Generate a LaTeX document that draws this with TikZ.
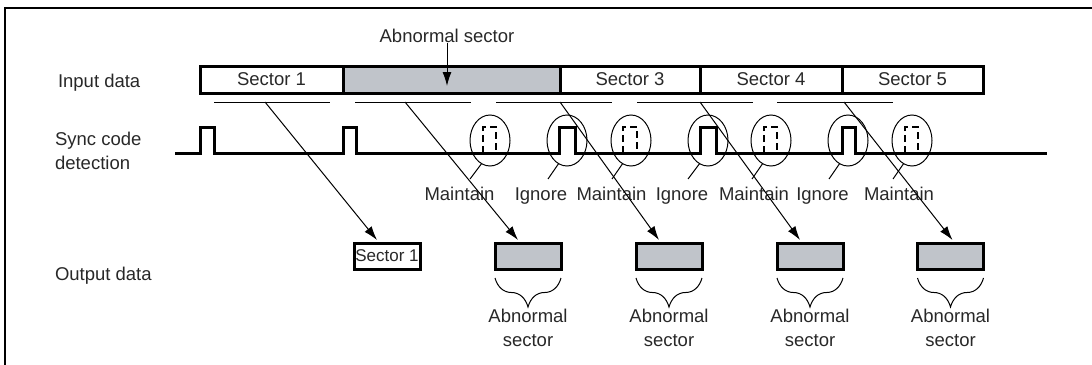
\documentclass[tikz,border=0pt]{standalone}
\usepackage{fontspec}
\setmainfont{Liberation Sans}
\usepackage{xcolor}
\usetikzlibrary{positioning,shapes.geometric,arrows.meta,
                decorations.pathreplacing,calc}
\definecolor{secgray}{RGB}{192,196,202}
\definecolor{inkgray}{RGB}{40,40,40}

\begin{document}
\begin{tikzpicture}[
  x=1pt, y=-1pt,
  every node/.style={font=\fontsize{18.5}{24}\selectfont, text=inkgray,
                     inner sep=0pt, outer sep=0pt},
  sec/.style={draw, line width=3pt, minimum height=27pt},
  outbox/.style={draw, line width=3pt, minimum width=66pt,
                 minimum height=26pt},
  ring/.style={draw, ellipse, line width=1pt,
               minimum width=40pt, minimum height=51pt},
  sig/.style={line width=3pt},
  gone/.style={line width=2.6pt, dash pattern=on 7pt off 4pt},
  arr/.style={-{Latex[length=14pt,width=9pt]}, line width=1pt},
  brc/.style={decorate, decoration={brace, amplitude=29pt},
              line width=1pt},
  tag/.style={anchor=base, text height=13pt, text depth=4pt}
]
\useasboundingbox (0,0) rectangle (1092,364);

%% Frame
\draw[line width=2.5pt] (5,370) -- (5,8) -- (1100,8);

%% Row titles
\node[anchor=west] (lin) at (58,83) {Input data};
\node[anchor=west, align=left] (lsync) at (55,151) {Sync code\\detection};
\node[anchor=west] (lout) at (55,276) {Output data};

%% Input data
\node[sec, minimum width=143pt] (s1) at (271.5,79.5) {Sector 1};
\node[sec, fill=secgray, minimum width=217pt, right=0pt of s1] (s2) {};
\node[sec, minimum width=140pt, right=0pt of s2] (s3) {Sector 3};
\node[sec, minimum width=142pt, right=0pt of s3] (s4) {Sector 4};
\node[sec, minimum width=141pt, right=0pt of s4] (s5) {Sector 5};

\node (abnlbl) at (447,36) {Abnormal sector};
\draw[arr] (abnlbl.south) -- ([yshift=7pt]abnlbl.south |- s2.south);

%% Detection windows
\draw[line width=1pt] (214,102) -- (330,102);
\draw[line width=1pt] (355,102) -- (471,102);
\draw[line width=1pt] (496,102) -- (612,102);
\draw[line width=1pt] (637,102) -- (753,102);
\draw[line width=1pt] (777,102) -- (893,102);
\coordinate (u1) at (265,102);
\coordinate (u2) at (405,102);
\coordinate (u3) at (560,102);
\coordinate (u4) at (700,102);
\coordinate (u5) at (844,102);

%% Sync code signal
\draw[sig] (175,153) -- (200,153) -- (200,127) -- (214,127) -- (214,153)
  -- (343,153) -- (343,127) -- (356,127) -- (356,153)
  -- (559,153) -- (559,127) -- (575,127) -- (575,153)
  -- (700,153) -- (700,127) -- (716,127) -- (716,153)
  -- (842,153) -- (842,127) -- (855,127) -- (855,153) -- (1047,153);
%% missing sync codes
\draw[gone] (483,153) -- (483,127) -- (496,127) -- (496,153);
\draw[gone] (623,153) -- (623,127) -- (637,127) -- (637,153);
\draw[gone] (764,153) -- (764,127) -- (777,127) -- (777,153);
\draw[gone] (905,153) -- (905,127) -- (918,127) -- (918,153);

\node[ring] (e1) at (490,140.5) {};
\node[ring] (e2) at (567,140.5) {};
\node[ring] (e3) at (631,140.5) {};
\node[ring] (e4) at (708,140.5) {};
\node[ring] (e5) at (771,140.5) {};
\node[ring] (e6) at (848,140.5) {};
\node[ring] (e7) at (912,140.5) {};

\node[tag] (m1) at (459.5,200) {Maintain};
\node[tag] (i1) at (541,200) {Ignore};
\node[tag] (m2) at (611.5,200) {Maintain};
\node[tag] (i2) at (682,200) {Ignore};
\node[tag] (m3) at (754,200) {Maintain};
\node[tag] (i3) at (822.5,200) {Ignore};
\node[tag] (m4) at (899,200) {Maintain};

\draw[line width=1pt] (e1.250) -- ([xshift=10.5pt,yshift=8pt]m1.north);
\draw[line width=1pt] (e2.250) -- ([xshift=7pt,yshift=8pt]i1.north);
\draw[line width=1pt] (e3.250) -- ([xshift=0.5pt,yshift=8pt]m2.north);
\draw[line width=1pt] (e4.250) -- ([xshift=6pt,yshift=8pt]i2.north);
\draw[line width=1pt] (e5.250) -- ([xshift=-2pt,yshift=8pt]m3.north);
\draw[line width=1pt] (e6.250) -- ([xshift=6.5pt,yshift=8pt]i3.north);
\draw[line width=1pt] (e7.250) -- ([xshift=-6pt,yshift=8pt]m4.north);

%% Output data
\node[outbox, font=\fontsize{17}{20}\selectfont] (o1) at (387,256) {Sector 1};
\node[outbox, fill=secgray] (o2) at (528,256) {};
\node[outbox, fill=secgray] (o3) at (669,256) {};
\node[outbox, fill=secgray] (o4) at (810,256) {};
\node[outbox, fill=secgray] (o5) at (950.5,256) {};

\draw[arr] (u1) -- ([xshift=-10pt,yshift=3pt]o1.north);
\draw[arr] (u2) -- ([xshift=-10pt,yshift=3pt]o2.north);
\draw[arr] (u3) -- ([xshift=-10pt,yshift=3pt]o3.north);
\draw[arr] (u4) -- ([xshift=-10pt,yshift=3pt]o4.north);
\draw[arr] (u5) -- ([xshift=2pt,yshift=3pt]o5.north);

\draw[brc] ([yshift=-9pt]o2.south east) -- ([yshift=-9pt]o2.south west);
\draw[brc] ([yshift=-9pt]o3.south east) -- ([yshift=-9pt]o3.south west);
\draw[brc] ([yshift=-9pt]o4.south east) -- ([yshift=-9pt]o4.south west);
\draw[brc] ([yshift=-9pt]o5.south east) -- ([yshift=-9pt]o5.south west);

\node[align=center, below=40pt of o2] (a2) {Abnormal\\sector};
\node[align=center, below=40pt of o3] (a3) {Abnormal\\sector};
\node[align=center, below=40pt of o4] (a4) {Abnormal\\sector};
\node[align=center, below=40pt of o5] (a5) {Abnormal\\sector};

\end{tikzpicture}
\end{document}
